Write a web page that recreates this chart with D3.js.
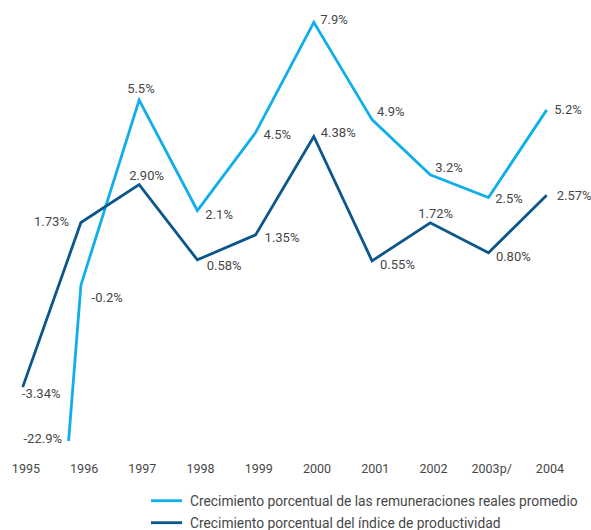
<!DOCTYPE html>
<html><head><meta charset="utf-8">
<script src="https://cdn.jsdelivr.net/npm/d3@7/dist/d3.min.js"></script>
<style>
html,body{margin:0;padding:0;background:#fff;}
svg{display:block;font-family:Roboto,"Open Sans",sans-serif;}
</style></head>
<body>
<svg id="chart" width="591" height="530"></svg>
<script>
const years = ["1995","1996","1997","1998","1999","2000","2001","2002","2003p/","2004"];
const remuneraciones = [-22.9,-0.2,5.5,2.1,4.5,7.9,4.9,3.2,2.5,5.2];
const productividad = [-3.34,1.73,2.90,0.58,1.35,4.38,0.55,1.72,0.80,2.57];
const seriesNames = ["Crecimiento porcentual de las remuneraciones reales promedio",
                     "Crecimiento porcentual del índice de productividad"];
const decimals = [1, 2];

// label placement (dx, dy from point; anchor)
const labelPlacement = [
  [[-6.6,2.3,"end"],[10.7,17,"start"],[-12,-7.5,"start"],[8,8.5,"start"],[8,6.7,"start"],
   [6.5,2,"start"],[5,-4,"start"],[5,-2.5,"start"],[6.7,5.7,"start"],[7.6,4.3,"start"]],
  [[-0.7,11,"start"],[-12,3.3,"end"],[-10,-4.5,"start"],[9.4,10,"start"],[9,7,"start"],
   [7,0,"start"],[8,8.5,"start"],[-12,-5,"start"],[7.4,8.4,"start"],[10,5,"start"]]
];
const colors = ["#10aeea","#0b568b"];
const textColor = "#474747";

const svg = d3.select("#chart");
const x = d3.scalePoint().domain(years).range([22.7, 546.7]);
const y = d3.scaleLinear().domain([-5, 8]).range([441, 19]);
const clipBottom = y(-5);

svg.append("defs").append("clipPath").attr("id","plotclip")
  .append("rect").attr("x",0).attr("y",0).attr("width",591).attr("height",clipBottom);

const series = [remuneraciones, productividad];
const line = d3.line().x((d,i)=>x(years[i])).y(d=>y(d));

series.forEach((vals, s) => {
  svg.append("path").datum(vals)
    .attr("clip-path","url(#plotclip)")
    .attr("d", line)
    .attr("fill","none")
    .attr("stroke", colors[s])
    .attr("stroke-width", 2.8)
    .attr("stroke-linejoin","miter")
    .attr("stroke-linecap","butt");
});

// labels
series.forEach((vals, s) => {
  const fmt = d3.format("." + decimals[s] + "f");
  vals.forEach((v, i) => {
    let px = x(years[i]), py = y(v);
    if (py > clipBottom) {
      const nx = x(years[i+1]), ny = y(vals[i+1]);
      const t = (clipBottom - ny) / (py - ny);
      px = nx + (px - nx) * t; py = clipBottom;
    }
    const p = labelPlacement[s][i];
    svg.append("text")
      .attr("x", px + p[0]).attr("y", py + p[1])
      .attr("text-anchor", p[2])
      .attr("font-size", 13).attr("fill", textColor)
      .text(fmt(v).replace("\u2212", "-") + "%");
  });
});

// x axis
const axis = svg.append("g").attr("transform","translate(2.7,461.5)")
  .call(d3.axisBottom(x).tickSize(0).tickPadding(3));
axis.select(".domain").remove();
axis.selectAll("text").attr("font-size",12.5).attr("fill",textColor)
  .attr("font-family","Roboto,'Open Sans',sans-serif");

// legend
const legend = svg.append("g");
seriesNames.forEach((name, s) => {
  const ly = 500.7 + s * 22;
  legend.append("line").attr("x1",151).attr("x2",182).attr("y1",ly).attr("y2",ly)
    .attr("stroke",colors[s]).attr("stroke-width",2.8);
  legend.append("text").attr("x",190).attr("y",ly+5)
    .attr("font-size",13.8).attr("fill",textColor).text(name);
});
</script>
</body></html>
